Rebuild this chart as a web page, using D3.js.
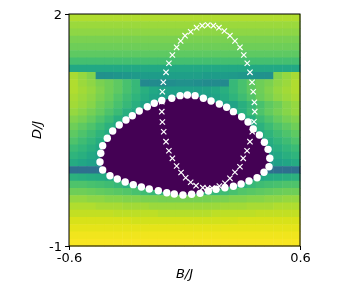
<!DOCTYPE html>
<html>
<head>
<meta charset="utf-8">
<style>
	html, body { margin: 0; padding: 0; background: #fff; }
	svg { display: block; filter: blur(0.35px); }
	text { font-family: "DejaVu Sans", sans-serif; fill: #000; }
</style>
<script src="https://cdnjs.cloudflare.com/ajax/libs/d3/7.8.5/d3.min.js"></script>
</head>
<body>
<svg id="chart" width="354" height="291"></svg>
<script>
// heatmap, top row first, one number per column (viridis position in percent)
var cellValues = [
	[88,88,88,88,88,88,88,88,88,88,88,88,88,88,88,88,88,88,88,88,88,88,88,88,88,88],
	[85,85,85,85,85,85,85,85,85,85,85,85,85,85,85,85,85,85,85,85,85,85,85,85,85,85],
	[83,83,83,83,83,83,83,83,83,83,83,83,83,83,83,83,83,83,83,83,83,83,83,83,83,83],
	[80,80,80,80,80,80,80,80,80,80,80,80,80,80,80,80,80,80,80,80,80,80,80,80,80,80],
	[78,78,78,78,78,78,78,78,78,78,78,78,78,78,78,78,78,78,78,78,78,78,78,78,78,78],
	[75,75,75,75,75,75,75,75,75,75,75,75,75,75,75,75,75,75,75,75,75,75,75,75,75,75],
	[70,70,70,70,70,70,70,70,70,70,70,70,70,70,70,70,70,70,70,70,70,70,70,70,70,70],
	[60,60,60,60,60,60,60,60,60,60,60,60,60,60,60,60,60,60,60,60,60,60,60,60,60,60],
	[87,84,81,50,51,52,53,54,55,55,55,56,56,56,56,55,55,55,54,53,52,51,50,81,84,87],
	[88,85,83,80,78,75,71,67,47,48,48,49,50,50,49,48,48,47,67,71,75,78,80,83,85,88],
	[88,86,84,81,78,75,71,67,63,60,58,57,57,57,57,58,60,63,67,71,75,78,81,84,86,88],
	[87,85,83,80,77,73,69,65,61,58,56,55,55,55,55,56,58,61,65,69,73,77,80,83,85,87],
	[86,84,82,78,75,71,67,63,58,56,55,0,0,0,0,0,55,56,58,63,67,71,75,78,82,84],
	[84,82,79,76,72,68,63,60,58,0,0,0,0,0,0,0,0,58,60,63,68,72,76,79,82,84],
	[81,79,76,72,68,63,60,0,0,0,0,0,0,0,0,0,0,0,0,60,63,68,72,76,79,81],
	[78,75,72,68,64,60,0,0,0,0,0,0,0,0,0,0,0,0,0,0,60,64,68,72,75,78],
	[75,72,69,65,61,0,0,0,0,0,0,0,0,0,0,0,0,0,0,0,0,61,65,69,72,75],
	[72,69,66,62,59,0,0,0,0,0,0,0,0,0,0,0,0,0,0,0,0,59,62,66,69,72],
	[68,66,63,60,0,0,0,0,0,0,0,0,0,0,0,0,0,0,0,0,0,0,60,63,66,68],
	[65,63,60,57,0,0,0,0,0,0,0,0,0,0,0,0,0,0,0,0,0,0,57,60,63,65],
	[61,59,57,54,0,0,0,0,0,0,0,0,0,0,0,0,0,0,0,0,0,0,54,57,59,61],
	[36,36,36,37,52,0,0,0,0,0,0,0,0,0,0,0,0,0,0,0,0,52,37,36,36,36],
	[64,63,62,61,60,58,0,0,0,0,0,0,0,0,0,0,0,0,0,0,58,60,61,62,63,64],
	[72,72,71,70,69,67,64,62,60,0,0,0,0,0,0,0,0,60,62,64,67,69,70,71,72,72],
	[78,78,77,76,75,74,73,71,69,67,66,65,65,65,65,66,67,69,71,73,74,75,76,77,78,78],
	[84,84,83,83,82,82,81,81,80,80,79,79,79,79,79,79,80,80,81,81,82,82,83,83,84,84],
	[88,88,88,87,87,87,86,86,86,85,85,85,85,85,85,85,85,86,86,86,87,87,87,88,88,88],
	[91,91,91,91,91,90,90,90,90,90,89,89,89,89,89,89,90,90,90,90,90,91,91,91,91,91],
	[94,94,94,94,94,94,94,93,93,93,93,93,93,93,93,93,93,93,93,94,94,94,94,94,94,94],
	[96,96,96,96,96,96,96,96,96,96,96,96,96,96,96,96,96,96,96,96,96,96,96,96,96,96],
	[98,98,98,98,98,98,98,98,98,98,98,98,98,98,98,98,98,98,98,98,98,98,98,98,98,98],
	[99,99,99,99,99,99,99,99,99,99,99,99,99,99,99,99,99,99,99,99,99,99,99,99,99,99]
];

// white dots round the dark lobe
var boundaryB = [-.023,-.066,-.118,-.157,-.193,-.235,-.271,-.304,-.339,-.373,-.401,-.425,-.435,-.439,-.425,-.387,-.349,-.308,-.266,-.224,-.183,-.136,-.092,-.053,-.008,.037,.081,.124,.164,.210,.254,.294,.335,.377,.413,.439,.443,.434,.415,.389,.357,.330,.297,.254,.219,.181,.138,.098,.055,.015];
var boundaryD = [.944,.910,.882,.845,.801,.746,.685,.629,.565,.487,.393,.297,.199,.086,-.017,-.091,-.134,-.172,-.207,-.237,-.263,-.285,-.311,-.328,-.340,-.331,-.319,-.289,-.267,-.246,-.228,-.198,-.159,-.117,-.047,.025,.134,.250,.341,.435,.513,.604,.672,.737,.794,.836,.875,.910,.944,.953];

// white crosses, the closed ring
var ringB = [-.020,-.041,-.063,-.081,-.096,-.110,-.115,-.118,-.118,-.115,-.108,-.096,-.081,-.063,-.041,-.018,.006,.032,.060,.095,.119,.143,.181,.210,.236,.262,.288,.305,.325,.340,.352,.361,.365,.363,.357,.351,.340,.326,.308,.288,.262,.236,.207,.179,.150,.121,.092,.063,.032,.003];
var ringD = [1.651,1.569,1.470,1.363,1.246,1.117,.995,.866,.737,.604,.478,.349,.232,.134,.035,-.050,-.117,-.176,-.220,-.246,-.254,-.250,-.224,-.189,-.125,-.047,.025,.134,.232,.349,.478,.607,.737,.858,.995,1.117,1.246,1.363,1.470,1.569,1.651,1.720,1.780,1.823,1.849,1.858,1.849,1.823,1.771,1.720];

var xTicks = [-0.6, 0.6];
var yTicks = [-1, 2];

var left = 69, right = 300, top_ = 14, bottom = 246;

var svg = d3.select("#chart");

var x = d3.scaleLinear().domain([-0.6, 0.6]).range([left, right]);
var y = d3.scaleLinear().domain([-1, 2]).range([bottom, top_]);
var col = d3.scaleBand().domain(d3.range(cellValues[0].length)).range([left, right]);
var row = d3.scaleBand().domain(d3.range(cellValues.length)).range([top_, bottom]);
var color = d3.scaleSequential(d3.interpolateViridis).domain([0, 100]);

var rows = svg.append("g").attr("class", "cells")
	.selectAll("g")
	.data(cellValues)
	.enter().append("g")
	.attr("transform", function(d, i) { return "translate(0," + row(i) + ")"; });

rows.selectAll("rect")
	.data(function(d) { return d; })
	.enter().append("rect")
	.attr("x", function(d, i) { return col(i); })
	.attr("width", col.bandwidth() + 0.5)
	.attr("height", row.bandwidth() + 0.5)
	.style("fill", function(d) { return color(d); });

// the dark lobe follows the dots, no stairs outside them
var lobe = d3.line()
	.x(function(d) { return x(d); })
	.y(function(d, i) { return y(boundaryD[i]); });

svg.append("path")
	.attr("d", lobe(boundaryB) + "Z")
	.style("fill", color(0));

svg.append("g").attr("class", "ring")
	.selectAll("path")
	.data(ringB)
	.enter().append("path")
	.attr("d", d3.symbol().type(d3.symbolTimes).size(20))
	.attr("transform", function(d, i) { return "translate(" + x(d) + "," + y(ringD[i]) + ")"; })
	.style("fill", "none")
	.style("stroke", "#fff")
	.style("stroke-width", 1.2);

svg.append("g").attr("class", "boundary")
	.selectAll("circle")
	.data(boundaryB)
	.enter().append("circle")
	.attr("cx", function(d) { return x(d); })
	.attr("cy", function(d, i) { return y(boundaryD[i]); })
	.attr("r", 3.7)
	.style("fill", "#fff");

var xAxis = svg.append("g")
	.attr("transform", "translate(0," + bottom + ")")
	.call(d3.axisBottom(x).tickValues(xTicks).tickFormat(String).tickSize(4).tickPadding(3));
var yAxis = svg.append("g")
	.attr("transform", "translate(" + left + ",0)")
	.call(d3.axisLeft(y).tickValues(yTicks).tickFormat(String).tickSize(4).tickPadding(3));

svg.selectAll(".tick text").style("font-family", "'DejaVu Sans'").style("font-size", "13px");
svg.selectAll(".domain").remove();

// frame on all four sides
svg.append("rect")
	.attr("x", left)
	.attr("y", top_)
	.attr("width", right - left)
	.attr("height", bottom - top_)
	.style("fill", "none")
	.style("stroke", "#000")
	.style("stroke-width", 1);

svg.append("text")
	.attr("x", (left + right) / 2)
	.attr("y", 278)
	.attr("text-anchor", "middle")
	.style("font-size", "13px")
	.style("font-style", "italic")
	.text("B/J");

svg.append("text")
	.attr("transform", "translate(41,130) rotate(-90)")
	.attr("text-anchor", "middle")
	.style("font-size", "13px")
	.style("font-style", "italic")
	.text("D/J");
</script>
</body>
</html>
